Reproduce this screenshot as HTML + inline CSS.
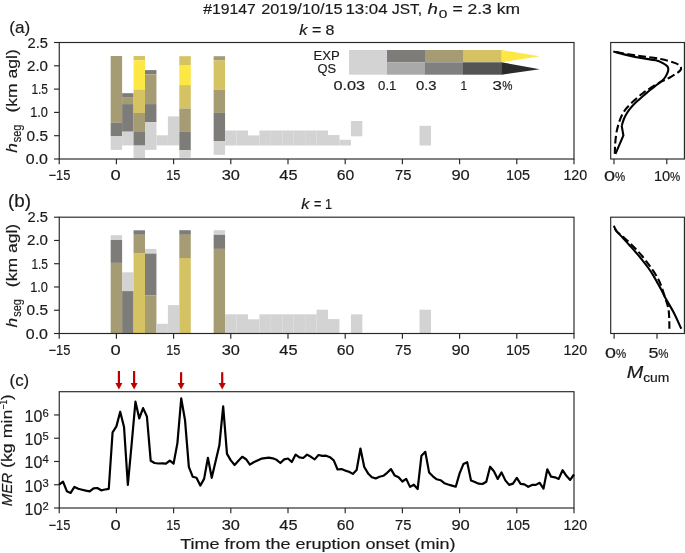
<!DOCTYPE html><html><head><meta charset="utf-8"><title>fig</title>
<style>html,body{margin:0;padding:0;background:#fff;}body{width:685px;height:553px;overflow:hidden;}svg{display:block;will-change:transform;}text{font-family:"Liberation Sans",sans-serif;fill:#1a1a1a;stroke:#1a1a1a;stroke-width:0.18px;}</style></head><body>
<svg width="685" height="553" viewBox="0 0 685 553">
<rect width="685" height="553" fill="#fff"/>
<g>
<rect x="110.68" y="56.00" width="11.44" height="66.80" fill="#a59c74"/>
<rect x="110.68" y="122.80" width="11.44" height="13.20" fill="#7d7c78"/>
<rect x="110.68" y="136.00" width="11.44" height="13.90" fill="#d3d3d3"/>
<rect x="122.12" y="93.20" width="11.44" height="4.50" fill="#7d7c78"/>
<rect x="122.12" y="97.70" width="11.44" height="6.40" fill="#a59c74"/>
<rect x="122.12" y="104.10" width="11.44" height="27.60" fill="#7d7c78"/>
<rect x="122.12" y="131.70" width="11.44" height="13.70" fill="#d3d3d3"/>
<rect x="133.56" y="56.00" width="11.44" height="4.30" fill="#d4c263"/>
<rect x="133.56" y="60.30" width="11.44" height="29.30" fill="#fde745"/>
<rect x="133.56" y="89.60" width="11.44" height="23.40" fill="#d4c263"/>
<rect x="133.56" y="113.00" width="11.44" height="19.00" fill="#a59c74"/>
<rect x="133.56" y="132.00" width="11.44" height="13.60" fill="#7d7c78"/>
<rect x="133.56" y="145.60" width="11.44" height="12.40" fill="#d3d3d3"/>
<rect x="145.00" y="70.10" width="11.44" height="4.30" fill="#7d7c78"/>
<rect x="145.00" y="74.40" width="11.44" height="29.70" fill="#a59c74"/>
<rect x="145.00" y="104.10" width="11.44" height="18.10" fill="#7d7c78"/>
<rect x="145.00" y="122.20" width="11.44" height="27.70" fill="#d3d3d3"/>
<rect x="156.44" y="135.30" width="11.44" height="10.10" fill="#d3d3d3"/>
<rect x="167.88" y="116.40" width="11.44" height="29.00" fill="#d3d3d3"/>
<rect x="179.32" y="56.20" width="11.44" height="8.80" fill="#d4c263"/>
<rect x="179.32" y="65.00" width="11.44" height="20.10" fill="#fde745"/>
<rect x="179.32" y="85.10" width="11.44" height="23.40" fill="#d4c263"/>
<rect x="179.32" y="108.50" width="11.44" height="23.40" fill="#a59c74"/>
<rect x="179.32" y="131.90" width="11.44" height="18.30" fill="#7d7c78"/>
<rect x="179.32" y="150.20" width="11.44" height="7.60" fill="#d3d3d3"/>
<rect x="213.64" y="56.20" width="11.44" height="4.30" fill="#a59c74"/>
<rect x="213.64" y="60.50" width="11.44" height="29.20" fill="#d4c263"/>
<rect x="213.64" y="89.70" width="11.44" height="23.20" fill="#a59c74"/>
<rect x="213.64" y="112.90" width="11.44" height="28.10" fill="#7d7c78"/>
<rect x="213.64" y="141.00" width="11.44" height="13.80" fill="#d3d3d3"/>
<rect x="225.08" y="130.50" width="11.44" height="15.00" fill="#d3d3d3"/>
<rect x="236.52" y="130.50" width="11.44" height="15.00" fill="#d3d3d3"/>
<rect x="247.96" y="135.40" width="11.44" height="10.10" fill="#d3d3d3"/>
<rect x="259.40" y="130.50" width="11.44" height="15.00" fill="#d3d3d3"/>
<rect x="270.84" y="130.50" width="11.44" height="15.00" fill="#d3d3d3"/>
<rect x="282.28" y="130.50" width="11.44" height="15.00" fill="#d3d3d3"/>
<rect x="293.72" y="130.50" width="11.44" height="15.00" fill="#d3d3d3"/>
<rect x="305.16" y="130.50" width="11.44" height="15.00" fill="#d3d3d3"/>
<rect x="316.60" y="130.50" width="11.44" height="15.00" fill="#d3d3d3"/>
<rect x="328.04" y="135.00" width="11.44" height="10.50" fill="#d3d3d3"/>
<rect x="339.48" y="139.80" width="11.44" height="5.70" fill="#d3d3d3"/>
<rect x="350.92" y="121.00" width="11.44" height="15.30" fill="#d3d3d3"/>
<rect x="419.56" y="125.80" width="11.44" height="19.70" fill="#d3d3d3"/>
</g>
<g>
<rect x="110.68" y="235.20" width="11.44" height="4.80" fill="#d3d3d3"/>
<rect x="110.68" y="240.00" width="11.44" height="22.90" fill="#7d7c78"/>
<rect x="110.68" y="262.90" width="11.44" height="70.60" fill="#a59c74"/>
<rect x="122.12" y="272.30" width="11.44" height="18.80" fill="#d3d3d3"/>
<rect x="122.12" y="291.10" width="11.44" height="42.40" fill="#7d7c78"/>
<rect x="133.56" y="230.30" width="11.44" height="4.50" fill="#7d7c78"/>
<rect x="133.56" y="234.80" width="11.44" height="18.80" fill="#a59c74"/>
<rect x="133.56" y="253.60" width="11.44" height="79.90" fill="#d4c263"/>
<rect x="145.00" y="248.90" width="11.44" height="4.70" fill="#d3d3d3"/>
<rect x="145.00" y="253.60" width="11.44" height="41.90" fill="#7d7c78"/>
<rect x="145.00" y="295.50" width="11.44" height="38.00" fill="#a59c74"/>
<rect x="156.44" y="323.80" width="11.44" height="9.70" fill="#d3d3d3"/>
<rect x="167.88" y="305.10" width="11.44" height="28.40" fill="#d3d3d3"/>
<rect x="179.32" y="230.20" width="11.44" height="4.60" fill="#7d7c78"/>
<rect x="179.32" y="234.80" width="11.44" height="23.20" fill="#a59c74"/>
<rect x="179.32" y="258.00" width="11.44" height="75.50" fill="#d4c263"/>
<rect x="213.64" y="230.20" width="11.44" height="4.60" fill="#d3d3d3"/>
<rect x="213.64" y="234.80" width="11.44" height="14.10" fill="#7d7c78"/>
<rect x="213.64" y="248.90" width="11.44" height="84.60" fill="#a59c74"/>
<rect x="225.08" y="314.30" width="11.44" height="19.20" fill="#d3d3d3"/>
<rect x="236.52" y="314.30" width="11.44" height="19.20" fill="#d3d3d3"/>
<rect x="247.96" y="319.30" width="11.44" height="14.20" fill="#d3d3d3"/>
<rect x="259.40" y="314.30" width="11.44" height="19.20" fill="#d3d3d3"/>
<rect x="270.84" y="314.30" width="11.44" height="19.20" fill="#d3d3d3"/>
<rect x="282.28" y="314.30" width="11.44" height="19.20" fill="#d3d3d3"/>
<rect x="293.72" y="314.30" width="11.44" height="19.20" fill="#d3d3d3"/>
<rect x="305.16" y="314.30" width="11.44" height="19.20" fill="#d3d3d3"/>
<rect x="316.60" y="309.70" width="11.44" height="23.80" fill="#d3d3d3"/>
<rect x="328.04" y="319.10" width="11.44" height="14.40" fill="#d3d3d3"/>
<rect x="350.92" y="314.40" width="11.44" height="19.10" fill="#d3d3d3"/>
<rect x="419.56" y="309.70" width="11.44" height="23.80" fill="#d3d3d3"/>
</g>
<rect x="349" y="50" width="38.3" height="24.7" fill="#d3d3d3"/>
<rect x="387.0" y="50" width="38.3" height="12.3" fill="#7d7c78"/>
<rect x="387.0" y="62.3" width="38.3" height="12.4" fill="#a9a9a9"/>
<rect x="425.0" y="50" width="38.3" height="12.3" fill="#a59c74"/>
<rect x="425.0" y="62.3" width="38.3" height="12.4" fill="#808080"/>
<rect x="463.0" y="50" width="38.8" height="12.3" fill="#d4c263"/>
<rect x="463.0" y="62.3" width="38.8" height="12.4" fill="#555555"/>
<polygon points="501.5,50 539.8,56.2 501.5,62.3" fill="#fde745"/>
<polygon points="501.5,62.3 539.8,69.2 501.5,74.7" fill="#2b2b2b"/>
<rect x="59.25" y="42.50" width="514.75" height="116.50" fill="none" stroke="#262626" stroke-width="1.15"/>
<line x1="59.20" x2="59.20" y1="159.00" y2="164.20" stroke="#262626" stroke-width="1.15"/>
<line x1="116.40" x2="116.40" y1="159.00" y2="164.20" stroke="#262626" stroke-width="1.15"/>
<line x1="173.60" x2="173.60" y1="159.00" y2="164.20" stroke="#262626" stroke-width="1.15"/>
<line x1="230.80" x2="230.80" y1="159.00" y2="164.20" stroke="#262626" stroke-width="1.15"/>
<line x1="288.00" x2="288.00" y1="159.00" y2="164.20" stroke="#262626" stroke-width="1.15"/>
<line x1="345.20" x2="345.20" y1="159.00" y2="164.20" stroke="#262626" stroke-width="1.15"/>
<line x1="402.40" x2="402.40" y1="159.00" y2="164.20" stroke="#262626" stroke-width="1.15"/>
<line x1="459.60" x2="459.60" y1="159.00" y2="164.20" stroke="#262626" stroke-width="1.15"/>
<line x1="516.80" x2="516.80" y1="159.00" y2="164.20" stroke="#262626" stroke-width="1.15"/>
<line x1="574.00" x2="574.00" y1="159.00" y2="164.20" stroke="#262626" stroke-width="1.15"/>
<rect x="59.25" y="217.20" width="514.75" height="116.30" fill="none" stroke="#262626" stroke-width="1.15"/>
<line x1="59.20" x2="59.20" y1="333.50" y2="338.70" stroke="#262626" stroke-width="1.15"/>
<line x1="116.40" x2="116.40" y1="333.50" y2="338.70" stroke="#262626" stroke-width="1.15"/>
<line x1="173.60" x2="173.60" y1="333.50" y2="338.70" stroke="#262626" stroke-width="1.15"/>
<line x1="230.80" x2="230.80" y1="333.50" y2="338.70" stroke="#262626" stroke-width="1.15"/>
<line x1="288.00" x2="288.00" y1="333.50" y2="338.70" stroke="#262626" stroke-width="1.15"/>
<line x1="345.20" x2="345.20" y1="333.50" y2="338.70" stroke="#262626" stroke-width="1.15"/>
<line x1="402.40" x2="402.40" y1="333.50" y2="338.70" stroke="#262626" stroke-width="1.15"/>
<line x1="459.60" x2="459.60" y1="333.50" y2="338.70" stroke="#262626" stroke-width="1.15"/>
<line x1="516.80" x2="516.80" y1="333.50" y2="338.70" stroke="#262626" stroke-width="1.15"/>
<line x1="574.00" x2="574.00" y1="333.50" y2="338.70" stroke="#262626" stroke-width="1.15"/>
<rect x="59.25" y="391.70" width="514.75" height="116.30" fill="none" stroke="#262626" stroke-width="1.15"/>
<line x1="59.20" x2="59.20" y1="508.00" y2="513.20" stroke="#262626" stroke-width="1.15"/>
<line x1="116.40" x2="116.40" y1="508.00" y2="513.20" stroke="#262626" stroke-width="1.15"/>
<line x1="173.60" x2="173.60" y1="508.00" y2="513.20" stroke="#262626" stroke-width="1.15"/>
<line x1="230.80" x2="230.80" y1="508.00" y2="513.20" stroke="#262626" stroke-width="1.15"/>
<line x1="288.00" x2="288.00" y1="508.00" y2="513.20" stroke="#262626" stroke-width="1.15"/>
<line x1="345.20" x2="345.20" y1="508.00" y2="513.20" stroke="#262626" stroke-width="1.15"/>
<line x1="402.40" x2="402.40" y1="508.00" y2="513.20" stroke="#262626" stroke-width="1.15"/>
<line x1="459.60" x2="459.60" y1="508.00" y2="513.20" stroke="#262626" stroke-width="1.15"/>
<line x1="516.80" x2="516.80" y1="508.00" y2="513.20" stroke="#262626" stroke-width="1.15"/>
<line x1="574.00" x2="574.00" y1="508.00" y2="513.20" stroke="#262626" stroke-width="1.15"/>
<rect x="610.70" y="42.50" width="73.70" height="116.50" fill="none" stroke="#262626" stroke-width="1.15"/>
<line x1="54.05" x2="59.25" y1="159.00" y2="159.00" stroke="#262626" stroke-width="1.15"/>
<line x1="54.05" x2="59.25" y1="135.70" y2="135.70" stroke="#262626" stroke-width="1.15"/>
<line x1="54.05" x2="59.25" y1="112.40" y2="112.40" stroke="#262626" stroke-width="1.15"/>
<line x1="54.05" x2="59.25" y1="89.10" y2="89.10" stroke="#262626" stroke-width="1.15"/>
<line x1="54.05" x2="59.25" y1="65.80" y2="65.80" stroke="#262626" stroke-width="1.15"/>
<line x1="54.05" x2="59.25" y1="42.50" y2="42.50" stroke="#262626" stroke-width="1.15"/>
<rect x="610.70" y="217.20" width="73.70" height="116.30" fill="none" stroke="#262626" stroke-width="1.15"/>
<line x1="54.05" x2="59.25" y1="333.50" y2="333.50" stroke="#262626" stroke-width="1.15"/>
<line x1="54.05" x2="59.25" y1="310.24" y2="310.24" stroke="#262626" stroke-width="1.15"/>
<line x1="54.05" x2="59.25" y1="286.98" y2="286.98" stroke="#262626" stroke-width="1.15"/>
<line x1="54.05" x2="59.25" y1="263.72" y2="263.72" stroke="#262626" stroke-width="1.15"/>
<line x1="54.05" x2="59.25" y1="240.46" y2="240.46" stroke="#262626" stroke-width="1.15"/>
<line x1="54.05" x2="59.25" y1="217.20" y2="217.20" stroke="#262626" stroke-width="1.15"/>
<line x1="54.05" x2="59.25" y1="508.00" y2="508.00" stroke="#262626" stroke-width="1.15"/>
<line x1="54.05" x2="59.25" y1="484.74" y2="484.74" stroke="#262626" stroke-width="1.15"/>
<line x1="54.05" x2="59.25" y1="461.48" y2="461.48" stroke="#262626" stroke-width="1.15"/>
<line x1="54.05" x2="59.25" y1="438.22" y2="438.22" stroke="#262626" stroke-width="1.15"/>
<line x1="54.05" x2="59.25" y1="414.96" y2="414.96" stroke="#262626" stroke-width="1.15"/>
<line x1="614.00" x2="614.00" y1="159.00" y2="164.20" stroke="#262626" stroke-width="1.15"/>
<line x1="666.80" x2="666.80" y1="159.00" y2="164.20" stroke="#262626" stroke-width="1.15"/>
<line x1="614.10" x2="614.10" y1="333.50" y2="338.70" stroke="#262626" stroke-width="1.15"/>
<line x1="657.00" x2="657.00" y1="333.50" y2="338.70" stroke="#262626" stroke-width="1.15"/>
<text x="48.50" y="180.40" font-size="14" text-anchor="start" textLength="21.8" lengthAdjust="spacingAndGlyphs">−15</text>
<text x="110.50" y="180.40" font-size="14" text-anchor="start" textLength="10.2" lengthAdjust="spacingAndGlyphs">0</text>
<text x="166.20" y="180.40" font-size="14" text-anchor="start" textLength="14.2" lengthAdjust="spacingAndGlyphs">15</text>
<text x="221.70" y="180.40" font-size="14" text-anchor="start" textLength="18.2" lengthAdjust="spacingAndGlyphs">30</text>
<text x="279.30" y="180.40" font-size="14" text-anchor="start" textLength="18.2" lengthAdjust="spacingAndGlyphs">45</text>
<text x="336.65" y="180.40" font-size="14" text-anchor="start" textLength="17.5" lengthAdjust="spacingAndGlyphs">60</text>
<text x="395.00" y="180.40" font-size="14" text-anchor="start" textLength="16.4" lengthAdjust="spacingAndGlyphs">75</text>
<text x="451.40" y="180.40" font-size="14" text-anchor="start" textLength="18.4" lengthAdjust="spacingAndGlyphs">90</text>
<text x="505.90" y="180.40" font-size="14" text-anchor="start" textLength="24.0" lengthAdjust="spacingAndGlyphs">105</text>
<text x="563.40" y="180.40" font-size="14" text-anchor="start" textLength="23.8" lengthAdjust="spacingAndGlyphs">120</text>
<text x="48.50" y="354.80" font-size="14" text-anchor="start" textLength="21.8" lengthAdjust="spacingAndGlyphs">−15</text>
<text x="110.50" y="354.80" font-size="14" text-anchor="start" textLength="10.2" lengthAdjust="spacingAndGlyphs">0</text>
<text x="166.20" y="354.80" font-size="14" text-anchor="start" textLength="14.2" lengthAdjust="spacingAndGlyphs">15</text>
<text x="221.70" y="354.80" font-size="14" text-anchor="start" textLength="18.2" lengthAdjust="spacingAndGlyphs">30</text>
<text x="279.30" y="354.80" font-size="14" text-anchor="start" textLength="18.2" lengthAdjust="spacingAndGlyphs">45</text>
<text x="336.65" y="354.80" font-size="14" text-anchor="start" textLength="17.5" lengthAdjust="spacingAndGlyphs">60</text>
<text x="395.00" y="354.80" font-size="14" text-anchor="start" textLength="16.4" lengthAdjust="spacingAndGlyphs">75</text>
<text x="451.40" y="354.80" font-size="14" text-anchor="start" textLength="18.4" lengthAdjust="spacingAndGlyphs">90</text>
<text x="505.90" y="354.80" font-size="14" text-anchor="start" textLength="24.0" lengthAdjust="spacingAndGlyphs">105</text>
<text x="563.40" y="354.80" font-size="14" text-anchor="start" textLength="23.8" lengthAdjust="spacingAndGlyphs">120</text>
<text x="48.50" y="529.60" font-size="14" text-anchor="start" textLength="21.8" lengthAdjust="spacingAndGlyphs">−15</text>
<text x="110.50" y="529.60" font-size="14" text-anchor="start" textLength="10.2" lengthAdjust="spacingAndGlyphs">0</text>
<text x="166.20" y="529.60" font-size="14" text-anchor="start" textLength="14.2" lengthAdjust="spacingAndGlyphs">15</text>
<text x="221.70" y="529.60" font-size="14" text-anchor="start" textLength="18.2" lengthAdjust="spacingAndGlyphs">30</text>
<text x="279.30" y="529.60" font-size="14" text-anchor="start" textLength="18.2" lengthAdjust="spacingAndGlyphs">45</text>
<text x="336.65" y="529.60" font-size="14" text-anchor="start" textLength="17.5" lengthAdjust="spacingAndGlyphs">60</text>
<text x="395.00" y="529.60" font-size="14" text-anchor="start" textLength="16.4" lengthAdjust="spacingAndGlyphs">75</text>
<text x="451.40" y="529.60" font-size="14" text-anchor="start" textLength="18.4" lengthAdjust="spacingAndGlyphs">90</text>
<text x="505.90" y="529.60" font-size="14" text-anchor="start" textLength="24.0" lengthAdjust="spacingAndGlyphs">105</text>
<text x="563.40" y="529.60" font-size="14" text-anchor="start" textLength="23.8" lengthAdjust="spacingAndGlyphs">120</text>
<text x="25.80" y="164.00" font-size="14" text-anchor="start" textLength="22.2" lengthAdjust="spacingAndGlyphs">0.0</text>
<text x="26.60" y="140.70" font-size="14" text-anchor="start" textLength="21.4" lengthAdjust="spacingAndGlyphs">0.5</text>
<text x="30.20" y="117.40" font-size="14" text-anchor="start" textLength="17.8" lengthAdjust="spacingAndGlyphs">1.0</text>
<text x="31.40" y="94.10" font-size="14" text-anchor="start" textLength="16.6" lengthAdjust="spacingAndGlyphs">1.5</text>
<text x="27.00" y="70.80" font-size="14" text-anchor="start" textLength="21.0" lengthAdjust="spacingAndGlyphs">2.0</text>
<text x="27.60" y="47.50" font-size="14" text-anchor="start" textLength="20.4" lengthAdjust="spacingAndGlyphs">2.5</text>
<text x="25.80" y="338.50" font-size="14" text-anchor="start" textLength="22.2" lengthAdjust="spacingAndGlyphs">0.0</text>
<text x="26.60" y="315.24" font-size="14" text-anchor="start" textLength="21.4" lengthAdjust="spacingAndGlyphs">0.5</text>
<text x="30.20" y="291.98" font-size="14" text-anchor="start" textLength="17.8" lengthAdjust="spacingAndGlyphs">1.0</text>
<text x="31.40" y="268.72" font-size="14" text-anchor="start" textLength="16.6" lengthAdjust="spacingAndGlyphs">1.5</text>
<text x="27.00" y="245.46" font-size="14" text-anchor="start" textLength="21.0" lengthAdjust="spacingAndGlyphs">2.0</text>
<text x="27.60" y="222.20" font-size="14" text-anchor="start" textLength="20.4" lengthAdjust="spacingAndGlyphs">2.5</text>
<text x="24.60" y="514.90" font-size="16" text-anchor="start" textLength="17.8" lengthAdjust="spacingAndGlyphs">10</text>
<text x="42.60" y="509.80" font-size="11.2" text-anchor="start">2</text>
<text x="24.60" y="491.64" font-size="16" text-anchor="start" textLength="17.8" lengthAdjust="spacingAndGlyphs">10</text>
<text x="42.60" y="486.54" font-size="11.2" text-anchor="start">3</text>
<text x="24.60" y="468.38" font-size="16" text-anchor="start" textLength="17.8" lengthAdjust="spacingAndGlyphs">10</text>
<text x="42.60" y="463.28" font-size="11.2" text-anchor="start">4</text>
<text x="24.60" y="445.12" font-size="16" text-anchor="start" textLength="17.8" lengthAdjust="spacingAndGlyphs">10</text>
<text x="42.60" y="440.02" font-size="11.2" text-anchor="start">5</text>
<text x="24.60" y="421.86" font-size="16" text-anchor="start" textLength="17.8" lengthAdjust="spacingAndGlyphs">10</text>
<text x="42.60" y="416.76" font-size="11.2" text-anchor="start">6</text>
<text x="604.00" y="180.80" font-size="14.5" text-anchor="start" textLength="11.1" lengthAdjust="spacingAndGlyphs">0</text>
<text x="615.00" y="180.80" font-size="12.2" text-anchor="start" textLength="10.2" lengthAdjust="spacingAndGlyphs">%</text>
<text x="653.90" y="180.80" font-size="14.5" text-anchor="start" textLength="16.3" lengthAdjust="spacingAndGlyphs">10</text>
<text x="670.10" y="180.80" font-size="12.2" text-anchor="start" textLength="10.2" lengthAdjust="spacingAndGlyphs">%</text>
<text x="605.00" y="358.00" font-size="14.5" text-anchor="start" textLength="11.0" lengthAdjust="spacingAndGlyphs">0</text>
<text x="615.90" y="358.00" font-size="12.2" text-anchor="start" textLength="10.2" lengthAdjust="spacingAndGlyphs">%</text>
<text x="648.40" y="358.00" font-size="14.5" text-anchor="start" textLength="10.0" lengthAdjust="spacingAndGlyphs">5</text>
<text x="658.30" y="358.00" font-size="12.2" text-anchor="start" textLength="10.2" lengthAdjust="spacingAndGlyphs">%</text>
<text x="626.80" y="377.70" font-size="16" text-anchor="start" textLength="16.5" lengthAdjust="spacingAndGlyphs" font-style="italic">M</text>
<text x="643.20" y="381.90" font-size="12.8" text-anchor="start" textLength="26.2" lengthAdjust="spacingAndGlyphs">cum</text>
<text x="203.20" y="14.20" font-size="15" text-anchor="start" textLength="52.6" lengthAdjust="spacingAndGlyphs">#19147</text>
<text x="261.20" y="14.20" font-size="15" text-anchor="start" textLength="81.4" lengthAdjust="spacingAndGlyphs">2019/10/15</text>
<text x="345.40" y="14.20" font-size="15" text-anchor="start" textLength="42.2" lengthAdjust="spacingAndGlyphs">13:04</text>
<text x="392.00" y="14.20" font-size="15" text-anchor="start" textLength="30.0" lengthAdjust="spacingAndGlyphs">JST,</text>
<text x="427.60" y="14.20" font-size="15" text-anchor="start" textLength="10.4" lengthAdjust="spacingAndGlyphs" font-style="italic">h</text>
<text x="438.80" y="18.20" font-size="10.8" text-anchor="start" textLength="8.6" lengthAdjust="spacingAndGlyphs">0</text>
<text x="452.40" y="14.20" font-size="15" text-anchor="start" textLength="67.6" lengthAdjust="spacingAndGlyphs">= 2.3 km</text>
<text x="299.20" y="35.00" font-size="14.5" text-anchor="start" textLength="8.2" lengthAdjust="spacingAndGlyphs" font-style="italic">k</text>
<text x="311.90" y="35.00" font-size="14.5" text-anchor="start" textLength="22.6" lengthAdjust="spacingAndGlyphs">= 8</text>
<text x="301.30" y="209.20" font-size="14.5" text-anchor="start" textLength="8.2" lengthAdjust="spacingAndGlyphs" font-style="italic">k</text>
<text x="314.00" y="209.20" font-size="14.5" text-anchor="start" textLength="18.0" lengthAdjust="spacingAndGlyphs">= 1</text>
<text x="9.30" y="33.00" font-size="17" text-anchor="start" textLength="21.0" lengthAdjust="spacingAndGlyphs">(a)</text>
<text x="8.10" y="207.20" font-size="17.5" text-anchor="start" textLength="23.0" lengthAdjust="spacingAndGlyphs">(b)</text>
<text x="9.60" y="385.60" font-size="17" text-anchor="start" textLength="19.6" lengthAdjust="spacingAndGlyphs">(c)</text>
<text x="313.60" y="60.40" font-size="12" text-anchor="start" textLength="26.2" lengthAdjust="spacingAndGlyphs">EXP</text>
<text x="317.40" y="73.20" font-size="12" text-anchor="start" textLength="18.6" lengthAdjust="spacingAndGlyphs">QS</text>
<text x="333.40" y="89.80" font-size="13.6" text-anchor="start" textLength="31.7" lengthAdjust="spacingAndGlyphs">0.03</text>
<text x="378.10" y="89.80" font-size="13.6" text-anchor="start" textLength="18.3" lengthAdjust="spacingAndGlyphs">0.1</text>
<text x="415.90" y="89.80" font-size="13.6" text-anchor="start" textLength="20.7" lengthAdjust="spacingAndGlyphs">0.3</text>
<text x="460.40" y="89.80" font-size="13.6" text-anchor="start" textLength="6.6" lengthAdjust="spacingAndGlyphs">1</text>
<text x="492.40" y="89.80" font-size="13.6" text-anchor="start" textLength="9.4" lengthAdjust="spacingAndGlyphs">3</text>
<text x="502.20" y="89.80" font-size="12" text-anchor="start" textLength="10.2" lengthAdjust="spacingAndGlyphs">%</text>
<g transform="translate(17.4,152.4) rotate(-90)">
<text x="-0.40" y="0.00" font-size="15.5" text-anchor="start" textLength="9.6" lengthAdjust="spacingAndGlyphs" font-style="italic">h</text>
<text x="10.20" y="3.80" font-size="12.5" text-anchor="start" textLength="17.6" lengthAdjust="spacingAndGlyphs">seg</text>
<text x="39.80" y="0.00" font-size="15.5" text-anchor="start" textLength="63.4" lengthAdjust="spacingAndGlyphs">(km agl)</text>
</g>
<g transform="translate(17.4,327.0) rotate(-90)">
<text x="-0.40" y="0.00" font-size="15.5" text-anchor="start" textLength="9.6" lengthAdjust="spacingAndGlyphs" font-style="italic">h</text>
<text x="10.20" y="3.80" font-size="12.5" text-anchor="start" textLength="17.6" lengthAdjust="spacingAndGlyphs">seg</text>
<text x="39.80" y="0.00" font-size="15.5" text-anchor="start" textLength="63.4" lengthAdjust="spacingAndGlyphs">(km agl)</text>
</g>
<g transform="translate(12,505.6) rotate(-90)">
<text x="-0.60" y="0.00" font-size="15" text-anchor="start" textLength="33.4" lengthAdjust="spacingAndGlyphs" font-style="italic">MER</text>
<text x="37.60" y="0.00" font-size="15" text-anchor="start" textLength="58.4" lengthAdjust="spacingAndGlyphs">(kg min</text>
<text x="96.20" y="-5.40" font-size="10.5" text-anchor="start" textLength="9.6" lengthAdjust="spacingAndGlyphs">−1</text>
<text x="105.60" y="0.00" font-size="15" text-anchor="start" textLength="5.4" lengthAdjust="spacingAndGlyphs">)</text>
</g>
<text x="180.20" y="549.40" font-size="15.5" text-anchor="start" textLength="275.2" lengthAdjust="spacingAndGlyphs">Time from the eruption onset (min)</text>
<polyline points="59.20,484.70 63.01,481.70 66.83,491.20 70.64,492.90 74.45,486.90 78.27,488.80 82.08,489.70 85.89,490.60 89.71,491.40 93.52,488.40 97.33,488.00 101.15,490.30 104.96,489.50 108.77,488.80 112.59,432.30 116.40,426.40 120.21,411.70 124.03,427.00 127.84,485.00 131.65,444.00 135.47,401.70 139.28,418.40 143.09,408.10 146.91,416.50 150.72,460.80 154.53,463.00 158.35,463.50 162.16,463.30 165.97,463.70 169.79,460.70 173.60,463.50 177.41,443.10 181.23,398.40 185.04,420.30 188.85,466.90 192.67,476.70 196.48,477.80 200.29,485.60 204.11,478.90 207.92,457.80 211.73,477.80 215.55,461.50 219.36,445.30 223.17,406.30 226.99,453.90 230.80,460.40 234.61,465.00 238.43,460.70 242.24,456.80 246.05,459.20 249.87,464.60 253.68,462.20 257.49,460.40 261.31,458.70 265.12,458.10 268.93,457.60 272.75,458.30 276.56,459.80 280.37,463.00 284.19,459.40 288.00,458.50 291.81,462.00 295.63,454.60 299.44,457.40 303.25,458.00 307.06,454.60 310.88,456.80 314.69,459.40 318.50,455.00 322.32,455.90 326.13,455.70 329.94,457.20 333.76,460.40 337.57,469.50 341.38,469.10 345.20,470.60 349.01,471.70 352.82,473.90 356.64,470.00 360.45,448.50 364.26,467.00 368.08,473.40 371.89,477.30 375.70,478.40 379.52,476.70 383.33,475.80 387.14,472.80 390.96,469.10 394.77,475.60 398.58,477.30 402.40,481.50 406.21,478.90 410.02,486.90 413.84,484.70 417.65,489.00 421.46,455.70 425.28,451.80 429.09,472.40 432.90,476.30 436.72,479.30 440.53,480.20 444.34,483.20 448.16,484.50 451.97,485.60 455.78,486.70 459.60,473.40 463.41,464.10 467.22,462.20 471.04,480.60 474.85,482.10 478.66,483.70 482.48,484.00 486.29,481.70 490.10,466.70 493.92,471.30 497.73,478.90 501.54,472.40 505.36,480.40 509.17,484.90 512.98,483.60 516.80,477.80 520.61,483.80 524.42,484.40 528.24,486.80 532.05,484.90 535.86,484.90 539.68,482.80 543.49,488.60 547.30,469.30 551.12,476.70 554.93,477.30 558.74,478.90 562.56,470.20 566.37,475.80 570.18,479.90 574.00,474.50" fill="none" stroke="#000" stroke-width="2.2" stroke-linejoin="round" stroke-linecap="butt"/>
<line x1="118.9" x2="118.9" y1="371.0" y2="384" stroke="#c00000" stroke-width="2.2"/>
<polygon points="115.4,383 122.4,383 118.9,389.6" fill="#c00000"/>
<line x1="134.1" x2="134.1" y1="371.0" y2="384" stroke="#c00000" stroke-width="2.2"/>
<polygon points="130.6,383 137.6,383 134.1,389.6" fill="#c00000"/>
<line x1="181.1" x2="181.1" y1="372.2" y2="384" stroke="#c00000" stroke-width="2.2"/>
<polygon points="177.6,383 184.6,383 181.1,389.6" fill="#c00000"/>
<line x1="222.2" x2="222.2" y1="372.2" y2="384" stroke="#c00000" stroke-width="2.2"/>
<polygon points="218.7,383 225.7,383 222.2,389.6" fill="#c00000"/>
<path d="M613.30,51.60 C617.42,52.58 630.93,56.05 638.00,57.50 C645.07,58.95 651.48,59.32 655.70,60.30 C659.92,61.28 661.33,62.37 663.30,63.40 C665.27,64.43 666.67,65.45 667.50,66.50 C668.33,67.55 668.35,68.53 668.30,69.70 C668.25,70.87 667.88,72.02 667.20,73.50 C666.52,74.98 665.75,76.85 664.20,78.60 C662.65,80.35 660.15,82.18 657.90,84.00 C655.65,85.82 653.12,87.53 650.70,89.50 C648.28,91.47 645.82,93.70 643.40,95.80 C640.98,97.90 638.45,99.92 636.20,102.10 C633.95,104.28 631.43,107.08 629.90,108.90 C628.37,110.72 628.00,111.32 627.00,113.00 C626.00,114.68 624.78,116.85 623.90,119.00 C623.02,121.15 622.07,124.75 621.70,125.90" fill="none" stroke="#000" stroke-width="2.1" stroke-linecap="butt"/>
<polyline points="621.7,125.9 623.4,135.4 615.5,153.8" fill="none" stroke="#000" stroke-width="2.1" stroke-linejoin="miter"/>
<path d="M613.30,51.60 C617.42,52.30 630.10,54.57 638.00,55.80 C645.90,57.03 654.37,57.73 660.70,59.00 C667.03,60.27 672.62,61.93 676.00,63.40 C679.38,64.87 680.50,66.43 681.00,67.80 C681.50,69.17 681.00,69.90 679.00,71.60 C677.00,73.30 672.05,76.30 669.00,78.00 C665.95,79.70 663.92,80.03 660.70,81.80 C657.48,83.57 652.73,86.65 649.70,88.60 C646.67,90.55 645.05,91.55 642.50,93.50 C639.95,95.45 637.03,97.88 634.40,100.30 C631.77,102.72 628.72,105.63 626.70,108.00 C624.68,110.37 623.60,112.02 622.30,114.50 C621.00,116.98 619.88,119.83 618.90,122.90 C617.92,125.97 617.02,129.42 616.40,132.90 C615.78,136.38 615.47,140.32 615.20,143.80 C614.93,147.28 614.87,152.13 614.80,153.80" fill="none" stroke="#000" stroke-width="2.1" stroke-linecap="butt" stroke-dasharray="7.7 3.4" stroke-dashoffset="8.0"/>
<path d="M613.80,225.70 C614.22,226.55 614.82,228.80 616.30,230.80 C617.78,232.80 620.58,235.38 622.70,237.70 C624.82,240.02 626.90,242.37 629.00,244.70 C631.10,247.03 633.18,249.27 635.30,251.70 C637.42,254.13 639.58,256.67 641.70,259.30 C643.82,261.93 646.10,264.87 648.00,267.50 C649.90,270.13 651.42,272.35 653.10,275.10 C654.78,277.85 656.73,281.57 658.10,284.00 C659.47,286.43 660.15,287.48 661.30,289.70 C662.45,291.92 662.93,293.50 665.00,297.30 C667.07,301.10 670.98,307.25 673.70,312.50 C676.42,317.75 680.03,326.08 681.30,328.80" fill="none" stroke="#000" stroke-width="2.1" stroke-linecap="butt"/>
<path d="M613.80,225.70 C614.22,226.55 614.82,229.00 616.30,230.80 C617.78,232.60 620.58,234.60 622.70,236.50 C624.82,238.40 626.90,240.20 629.00,242.20 C631.10,244.20 633.18,246.28 635.30,248.50 C637.42,250.72 639.58,252.97 641.70,255.50 C643.82,258.03 646.10,261.17 648.00,263.70 C649.90,266.23 651.42,268.17 653.10,270.70 C654.78,273.23 656.83,276.58 658.10,278.90 C659.37,281.22 659.55,281.53 660.70,284.60 C661.85,287.67 663.73,293.37 665.00,297.30 C666.27,301.23 667.60,304.75 668.30,308.20 C669.00,311.65 669.02,314.57 669.20,318.00 C669.38,321.43 669.37,327.00 669.40,328.80" fill="none" stroke="#000" stroke-width="2.1" stroke-linecap="butt" stroke-dasharray="7.7 3.4" stroke-dashoffset="8.0"/>
</svg></body></html>
